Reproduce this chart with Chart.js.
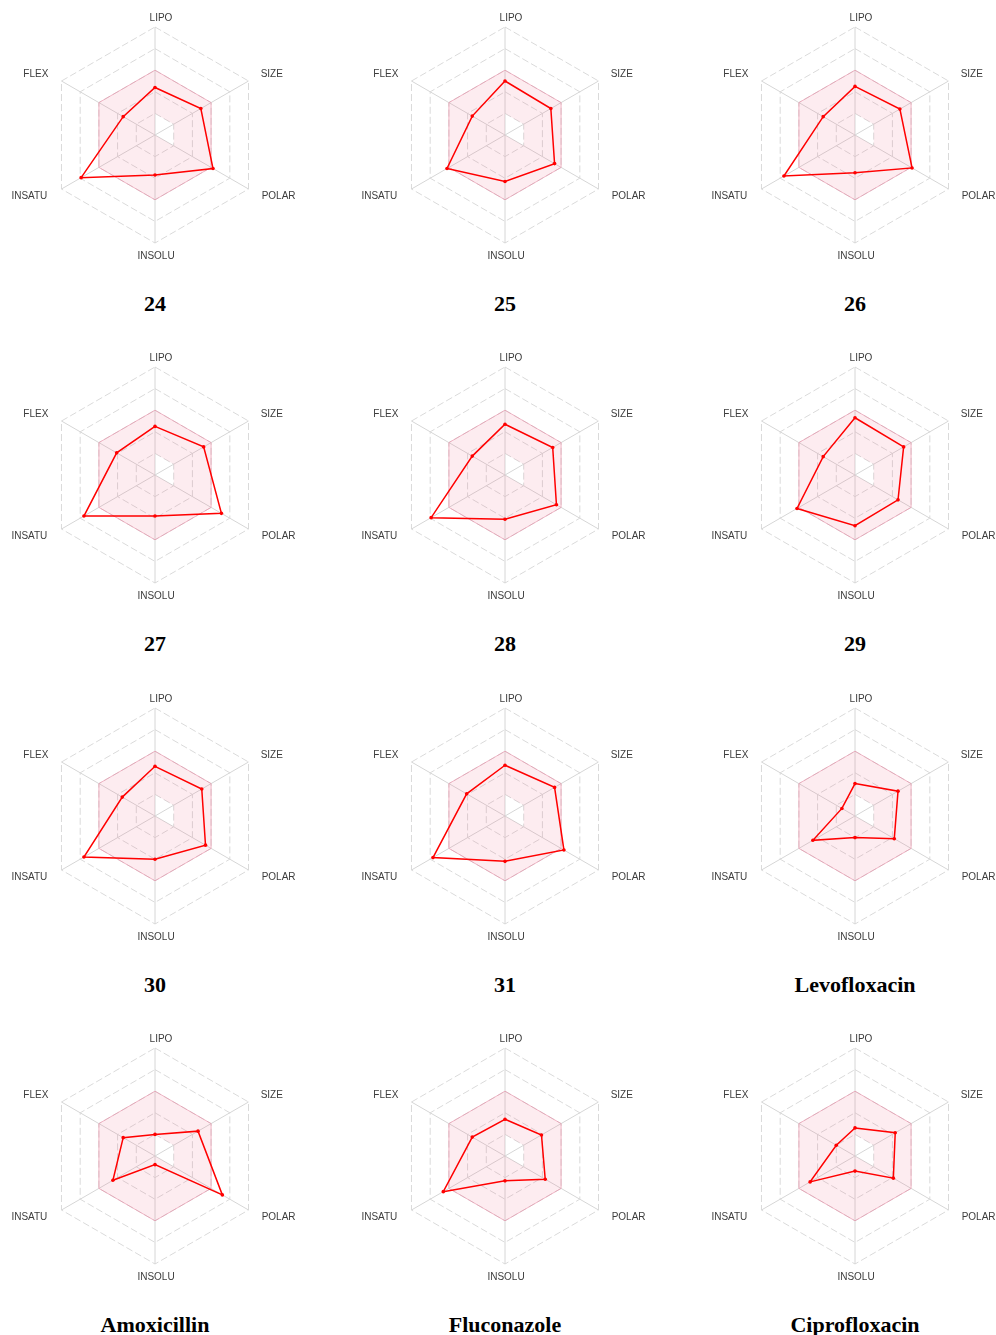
<!DOCTYPE html>
<html>
<head>
<meta charset="utf-8">
<title>Bioavailability radars</title>
<script src="https://cdn.jsdelivr.net/npm/chart.js@4.4.0/dist/chart.umd.min.js"></script>
<style>
  html, body { margin: 0; padding: 0; background: #fff; }
  body { width: 996px; height: 1335px; position: relative; overflow: hidden; }
  canvas { position: absolute; }
  .name {
    position: absolute; width: 300px; text-align: center; line-height: 28px;
    font: bold 22px "Liberation Serif", "Times New Roman", serif; color: #000;
  }
</style>
</head>
<body>
<script>
// radar axes, clockwise from the top
const axisLabels = ['LIPO', 'SIZE', 'POLAR', 'INSOLU', 'INSATU', 'FLEX'];

// optimal zone: outer edge and the inner boundary of the pink band
const optimalOuter = [3, 3, 3, 3, 3, 3];
const optimalInner = [1, 1, 1, 0, 0, 0];

// compound profiles (LIPO, SIZE, POLAR, INSOLU, INSATU, FLEX)
const c24 = [2.2, 2.45, 3.1, 1.85, 3.95, 1.7];
const c25 = [2.5, 2.45, 2.65, 2.15, 3.1, 1.75];
const c26 = [2.25, 2.4, 3.05, 1.75, 3.8, 1.7];
const c27 = [2.25, 2.6, 3.55, 1.9, 3.8, 2.05];
const c28 = [2.35, 2.55, 2.75, 2.05, 3.95, 1.75];
const c29 = [2.65, 2.6, 2.3, 2.35, 3.1, 1.7];
const c30 = [2.3, 2.5, 2.7, 2.0, 3.8, 1.75];
const c31 = [2.35, 2.65, 3.15, 2.1, 3.85, 2.05];
const levofloxacin = [1.5, 2.3, 2.1, 1.0, 2.25, 0.7];
const amoxicillin = [1.0, 2.3, 3.6, 0.4, 2.25, 1.7];
const fluconazole = [1.7, 1.95, 2.15, 1.15, 3.3, 1.75];
const ciprofloxacin = [1.3, 2.15, 2.05, 0.7, 2.4, 1.0];

const compoundNames = ['24', '25', '26', '27', '28', '29', '30', '31',
  'Levofloxacin', 'Amoxicillin', 'Fluconazole', 'Ciprofloxacin'];
const compoundValues = [c24, c25, c26, c27, c28, c29, c30, c31,
  levofloxacin, amoxicillin, fluconazole, ciprofloxacin];

// grid placement of the radar centres
const columnX = [155, 505, 855];
const rowY = [135, 475, 816, 1156];

const CANVAS_W = 300;
const CANVAS_H = 280;
const RADIUS = 108;

// axis name placement: distance past the outer ring and a small x nudge
const labelGap = [9, 14, 14, 13, 14, 14];
const labelShift = [6, 0, 1, 1, -2, -1];

const axisLabelPlugin = {
  id: 'axisLabels',
  afterDraw(chart) {
    const scale = chart.scales.r;
    const ctx = chart.ctx;
    ctx.save();
    ctx.font = '10px "Liberation Sans", Arial, sans-serif';
    ctx.fillStyle = '#3c3c3c';
    ctx.textBaseline = 'middle';
    axisLabels.forEach((label, i) => {
      const p = scale.getPointPosition(i, scale.drawingArea + labelGap[i]);
      if (p.x > scale.xCenter + 1) ctx.textAlign = 'left';
      else if (p.x < scale.xCenter - 1) ctx.textAlign = 'right';
      else ctx.textAlign = 'center';
      ctx.fillText(label, p.x + labelShift[i], p.y);
    });
    ctx.restore();
  }
};

function drawRadar(index) {
  const cx = columnX[index % 3];
  const cy = rowY[Math.floor(index / 3)];

  const canvas = document.createElement('canvas');
  canvas.width = CANVAS_W;
  canvas.height = CANVAS_H;
  canvas.style.left = (cx - CANVAS_W / 2) + 'px';
  canvas.style.top = (cy - CANVAS_H / 2) + 'px';
  document.body.appendChild(canvas);

  const title = document.createElement('div');
  title.className = 'name';
  title.textContent = compoundNames[index];
  title.style.left = (cx - 150) + 'px';
  title.style.top = (cy + 156) + 'px';
  document.body.appendChild(title);

  const padX = CANVAS_W / 2 - RADIUS;
  const padY = CANVAS_H / 2 - RADIUS;

  new Chart(canvas.getContext('2d'), {
    type: 'radar',
    data: {
      labels: axisLabels,
      datasets: [
        {
          data: compoundValues[index],
          borderColor: '#ff0000',
          borderWidth: 1.5,
          pointRadius: 1.8,
          pointBackgroundColor: '#ff0000',
          pointBorderWidth: 0,
          fill: false
        },
        {
          data: optimalOuter,
          borderColor: 'rgba(232, 140, 165, 0.6)',
          borderWidth: 1,
          pointRadius: 0,
          backgroundColor: 'rgba(240, 80, 120, 0.11)',
          fill: '+1'
        },
        {
          data: optimalInner,
          borderColor: 'rgba(0, 0, 0, 0)',
          borderWidth: 0,
          pointRadius: 0,
          fill: false
        }
      ]
    },
    options: {
      responsive: false,
      animation: false,
      layout: { padding: { left: padX, right: padX, top: padY, bottom: padY } },
      elements: { line: { tension: 0 } },
      plugins: { legend: { display: false }, tooltip: { enabled: false } },
      scales: {
        r: {
          min: 0,
          max: 5,
          startAngle: 0,
          ticks: { display: false, stepSize: 1 },
          pointLabels: { display: false },
          grid: { circular: false, color: '#dadada', lineWidth: 1 },
          border: { dash: [7, 3] },
          angleLines: { color: '#d6d6d6', lineWidth: 1 }
        }
      }
    },
    plugins: [axisLabelPlugin]
  });
}

compoundNames.forEach((name, i) => drawRadar(i));
</script>
</body>
</html>
